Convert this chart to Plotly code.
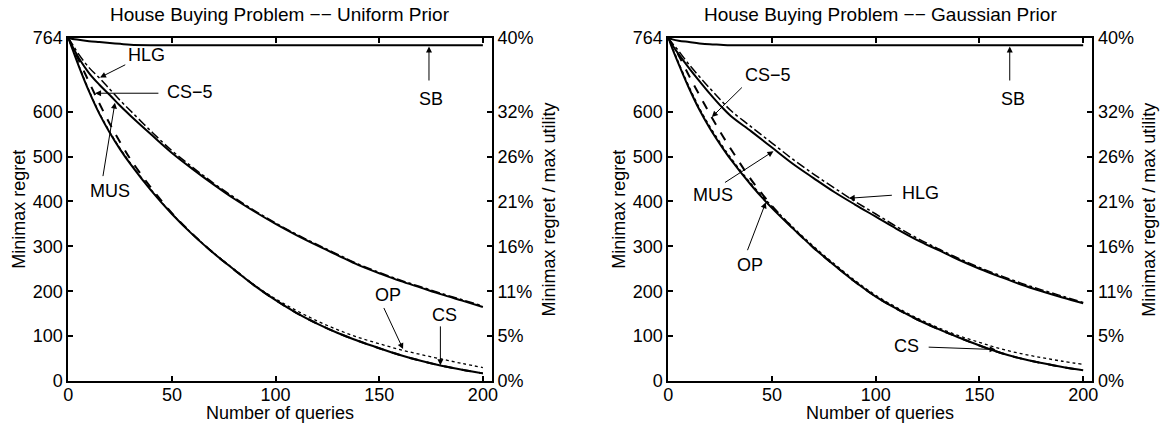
import plotly.graph_objects as go

# ---------------- data ----------------
queries = [0, 2, 5, 10, 15, 20, 25, 30, 40, 50, 60, 70, 80, 90, 100,
           110, 120, 130, 140, 150, 160, 170, 180, 190, 200]

# Uniform prior
uni_mus = [764, 745, 720, 686, 660, 637, 613, 591, 549, 508, 472, 438, 406, 377, 350,
           325, 302, 280, 258, 240, 223, 208, 193, 179, 165]
uni_hlg = [764, 750, 728, 698, 675, 650, 625, 602, 556, 513, 476, 441, 409, 379, 352,
           327, 304, 282, 260, 242, 225, 210, 195, 181, 167]
uni_cs = [764, 739, 702, 645, 595, 553, 516, 483, 424, 372, 326, 285, 248, 212, 180,
          152, 128, 107, 89, 73, 58, 45, 34, 25, 17]
uni_cs5 = [764, 744, 715, 666, 618, 573, 532, 494, 430, 374, 327, 285, 248, 212, 180,
           152, 128, 107, 89, 73, 58, 45, 34, 25, 17]
uni_op = [764, 741, 704, 647, 597, 555, 518, 485, 426, 373, 327, 286, 249, 213, 183,
          157, 134, 114, 97, 83, 70, 59, 49, 39, 30]
uni_sb = [764, 762, 760, 757, 755, 753, 751, 749, 748, 748, 748, 748, 748, 748, 748,
          748, 748, 748, 748, 748, 748, 748, 748, 748, 748]

# Gaussian prior
gau_mus = [764, 748, 728, 697, 668, 640, 614, 591, 556, 520, 484, 452, 421, 393, 366,
           339, 314, 292, 270, 250, 232, 215, 200, 186, 173]
gau_hlg = [764, 752, 735, 705, 678, 652, 627, 603, 566, 530, 494, 461, 430, 400, 372,
           344, 318, 295, 273, 253, 235, 218, 203, 189, 175]
gau_cs = [764, 740, 706, 652, 604, 563, 527, 494, 436, 385, 340, 297, 258, 221, 188,
          161, 137, 116, 97, 79, 63, 50, 40, 31, 24]
gau_cs5 = [764, 748, 725, 680, 637, 595, 555, 518, 448, 390, 341, 297, 258, 221, 188,
           161, 137, 116, 97, 79, 63, 50, 40, 31, 24]
gau_op = [764, 742, 709, 656, 608, 567, 531, 498, 439, 389, 343, 300, 261, 224, 191,
          164, 140, 119, 101, 86, 72, 61, 52, 44, 37]
gau_sb = [764, 761, 758, 755, 752, 750, 749, 748, 748, 748, 748, 748, 748, 748, 748,
          748, 748, 748, 748, 748, 748, 748, 748, 748, 748]

titles = ["House Buying Problem \u2212\u2212 Uniform Prior",
          "House Buying Problem \u2212\u2212 Gaussian Prior"]
x_title = "Number of queries"
y_title_left = "Minimax regret"
y_title_right = "Minimax regret / max utility"
x_ticks = [0, 50, 100, 150, 200]
y_ticks = [0, 100, 200, 300, 400, 500, 600, 764]
pct_labels = ["0%", "5%", "11%", "16%", "21%", "26%", "32%", "40%"]

# labels: (text, label_x, label_y, tail_x, tail_y, tip_x, tip_y)
uni_labels = [
    ("HLG", 37.8, 727, 28.2, 706, 15.3, 676),
    ("CS\u22125", 58.7, 643, 44.2, 641, 12.9, 641),
    ("MUS", 20.1, 423, 16.6, 453, 22.5, 620),
    ("OP", 154.3, 192, 151.9, 166, 161.5, 71),
    ("CS", 181.6, 147, 179.5, 125, 179.5, 35),
    ("SB", 175.2, 628, 174.0, 666, 174.0, 745),
]
gau_labels = [
    ("CS\u22125", 48.3, 682, 36.2, 657, 21.0, 588),
    ("MUS", 21.6, 415, 26.6, 440, 50.7, 512),
    ("HLG", 121.5, 419, 108.5, 414, 87.0, 407),
    ("OP", 39.5, 258, 37.9, 288, 47.0, 398),
    ("CS", 115.0, 79, 124.8, 75.5, 157.8, 70),
    ("SB", 166.0, 628, 164.6, 666, 164.6, 745),
]

FONT = "Liberation Sans, Arial, sans-serif"
fig = go.Figure()

panels = [
    dict(xa="x", ya="y", ya2="y2",
         series=[(uni_sb, "solid", 2), (uni_mus, "solid", 2), (uni_hlg, "dashdot", 1.5),
                 (uni_op, "dot", 1.3), (uni_cs5, "dash", 2), (uni_cs, "solid", 2)],
         labels=uni_labels),
    dict(xa="x2", ya="y3", ya2="y4",
         series=[(gau_sb, "solid", 2), (gau_mus, "solid", 2), (gau_hlg, "dashdot", 1.5),
                 (gau_op, "dot", 1.3), (gau_cs5, "dash", 2), (gau_cs, "solid", 2)],
         labels=gau_labels),
]

LABEL_SIZE = 18
for p in panels:
    for vals, dash, w in p["series"]:
        fig.add_trace(go.Scatter(x=queries, y=vals, mode="lines", xaxis=p["xa"], yaxis=p["ya"],
                                 line=dict(color="black", width=w, dash=dash, shape="spline"),
                                 showlegend=False, hoverinfo="skip"))
    fig.add_trace(go.Scatter(x=[None], y=[None], mode="lines", xaxis=p["xa"], yaxis=p["ya2"],
                             showlegend=False, hoverinfo="skip"))
    for text, lx, ly, tx, ty, hx, hy in p["labels"]:
        fig.add_annotation(x=lx, y=ly, xref=p["xa"], yref=p["ya"], text=text, showarrow=False,
                           xanchor="center", yanchor="middle",
                           font=dict(family=FONT, size=LABEL_SIZE, color="black"))
        fig.add_annotation(x=hx, y=hy, xref=p["xa"], yref=p["ya"], ax=tx, ay=ty,
                           axref=p["xa"], ayref=p["ya"], text="", showarrow=True,
                           arrowhead=2, arrowsize=1.2, arrowwidth=1, arrowcolor="black",
                           standoff=0, startstandoff=0)

W, H = 1163, 427
TOP, BOT = 38, 381
ydom = [1 - BOT / H, 1 - TOP / H]
xpx = [[68.3, 492.0], [668.3, 1092.3]]
xdoms = [[a / W, b / W] for a, b in xpx]

tickfont = dict(family=FONT, size=18, color="black")
common_x = dict(range=[0, 204.4], tickvals=x_ticks, ticks="inside", ticklen=5, tickwidth=1.5,
                showline=True, linewidth=2, linecolor="black", mirror="ticks", showgrid=False,
                zeroline=False, tickfont=tickfont, tickcolor="black", automargin=False,
                ticklabelstandoff=-4)
common_yl = dict(range=[0, 764], tickvals=y_ticks, ticks="inside", ticklen=5, tickwidth=1.5,
                 showline=True, linewidth=2, linecolor="black", showgrid=False, zeroline=False,
                 tickfont=tickfont, tickcolor="black", automargin=False)
common_yr = dict(range=[0, 764], tickvals=y_ticks, ticktext=pct_labels, ticks="inside",
                 ticklen=5, tickwidth=1.5, side="right", showline=True, linewidth=2,
                 linecolor="black", showgrid=False, zeroline=False, tickfont=tickfont,
                 tickcolor="black", automargin=False)

fig.update_layout(
    width=W, height=H, margin=dict(l=0, r=0, t=0, b=0),
    paper_bgcolor="white", plot_bgcolor="white",
    xaxis=dict(domain=xdoms[0], anchor="y", **common_x),
    yaxis=dict(domain=ydom, anchor="x", **common_yl),
    yaxis2=dict(overlaying="y", anchor="x", **common_yr),
    xaxis2=dict(domain=xdoms[1], anchor="y3", **common_x),
    yaxis3=dict(domain=ydom, anchor="x2", **common_yl),
    yaxis4=dict(overlaying="y3", anchor="x2", **common_yr),
    showlegend=False,
)

titlefont = dict(family=FONT, size=18, color="black")
ymid = 1 - (TOP + BOT) / 2 / H
for i, t in enumerate(titles):
    a, b = xpx[i]
    cx = (a + b) / 2 / W
    fig.add_annotation(x=cx, y=1 - 14 / H, xref="paper", yref="paper", text=t, showarrow=False,
                       font=dict(family=FONT, size=19, color="black"),
                       xanchor="center", yanchor="middle")
    fig.add_annotation(x=cx, y=1 - 413 / H, xref="paper", yref="paper", text=x_title,
                       showarrow=False, font=titlefont, xanchor="center", yanchor="middle")
    fig.add_annotation(x=(a - 50) / W, y=ymid, xref="paper", yref="paper", text=y_title_left,
                       showarrow=False, font=titlefont, textangle=-90,
                       xanchor="center", yanchor="middle")
    fig.add_annotation(x=(b + 56) / W, y=ymid, xref="paper", yref="paper", text=y_title_right,
                       showarrow=False, font=titlefont, textangle=-90,
                       xanchor="center", yanchor="middle")

fig.write_html("out.html", config={"displayModeBar": False},
               post_script="document.body.style.margin='0';document.body.style.overflow='hidden';")
